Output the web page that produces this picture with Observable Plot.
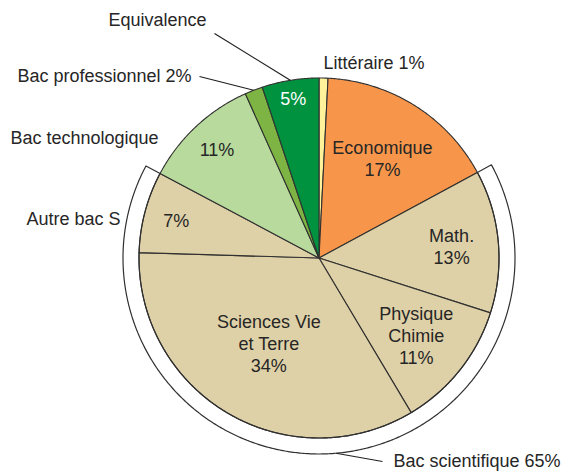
<!DOCTYPE html>
<html>
<head>
<meta charset="utf-8">
<script src="https://cdn.jsdelivr.net/npm/d3@7"></script>
<script src="https://cdn.jsdelivr.net/npm/@observablehq/plot@0.6"></script>
<style>
  html, body { margin: 0; padding: 0; background: #fff; }
  #chart svg { display: block; }
</style>
</head>
<body>
<div id="chart"></div>
<script>
// ---- data ----
const categories = ["Littéraire", "Economique", "Math.", "Physique Chimie", "Sciences Vie et Terre", "Autre bac S", "Bac technologique", "Bac professionnel", "Equivalence"];
const shares = [0.8, 16.3, 12.8, 11.5, 34.0, 7.3, 10.5, 1.6, 5.1];
const pctLabels = ["1%", "17%", "13%", "11%", "34%", "7%", "11%", "2%", "5%"];
const colors = ["#FFF29B", "#F7964B", "#DFD1A7", "#DFD1A7", "#DFD1A7", "#DFD1A7", "#B8DA9C", "#7DB443", "#00923F"];
const innerNames = [null, "Economique", "Math.", "Physique\nChimie", "Sciences Vie\net Terre", null, null, null, null];
const scientificGroup = ["Math.", "Physique Chimie", "Sciences Vie et Terre", "Autre bac S"];
const scientificLabel = "Bac scientifique 65%";

// ---- layout ----
const W = 563, H = 471;
const cx = 318.5, cy = 257.5;
const R = 180, R2 = 196;
const labelRadius = [0, 0.66, 0.74, 0.69, 0.55, 0.82, 0.83, 0, 0.9];
const font = "'Liberation Sans', Arial, Helvetica, sans-serif";
const ink = "#262626";
const fs = 18;

const pie = d3.pie().sort(null).value(d => d)(shares);
const pt = (a, r) => ({x: r * Math.sin(a), y: -r * Math.cos(a)});
const arcPts = (a0, a1, r) => {
  const n = Math.max(2, Math.ceil((a1 - a0) / (Math.PI / 360)));
  return d3.range(n + 1).map(i => pt(a0 + (a1 - a0) * i / n, r));
};

// slices as closed polygons
const slicePts = [];
pie.forEach((p, i) => {
  const pts = [{x: 0, y: 0}, ...arcPts(p.startAngle, p.endAngle, R)];
  pts.forEach(q => slicePts.push({...q, name: categories[i], color: colors[i]}));
});

// bracket for Bac scientifique
const sci = pie.filter((p, i) => scientificGroup.includes(categories[i]));
const b0 = d3.min(sci, p => p.startAngle), b1 = d3.max(sci, p => p.endAngle);
const bracketPts = [...arcPts(b0, b1, R2), ...arcPts(b0, b1, R).reverse()];

// inner labels
const inner = pie.map((p, i) => {
  if (!labelRadius[i]) return null;
  const m = (p.startAngle + p.endAngle) / 2;
  const q = pt(m, R * labelRadius[i]);
  const txt = innerNames[i] ? innerNames[i] + "\n" + pctLabels[i] : pctLabels[i];
  return {...q, text: txt, fill: categories[i] === "Equivalence" ? "#ffffff" : ink};
}).filter(d => d);

// outer labels & leaders (anchor positions in pixel space relative to centre)
const px = (x, y) => ({x: x - cx, y: y - cy});
const idx = n => categories.indexOf(n);
const midA = i => (pie[i].startAngle + pie[i].endAngle) / 2;
const outer = [
  {...px(157, 20), text: "Equivalence", anchor: "middle"},
  {...px(191, 76), text: "Bac professionnel " + pctLabels[idx("Bac professionnel")], anchor: "end"},
  {...px(323, 63), text: "Littéraire " + pctLabels[idx("Littéraire")], anchor: "start"},
  {...px(10, 138), text: "Bac technologique", anchor: "start"},
  {...px(120, 219), text: "Autre bac S", anchor: "end"},
  {...px(393, 461), text: scientificLabel, anchor: "start"}
];
const leaders = [
  {a: pt(midA(idx("Equivalence")), R), b: px(214, 33)},
  {a: pt(midA(idx("Bac professionnel")), R), b: px(199, 76)},
  {a: pt(175 * Math.PI / 180, R2), b: px(382, 461)}
];

const outerText = anchor => Plot.text(outer.filter(d => d.anchor === anchor), {
  x: "x", y: "y", text: "text", textAnchor: anchor, fill: ink, fontSize: fs
});

const chart = Plot.plot({
  width: W, height: H,
  margin: 0,
  x: {domain: [-cx, W - cx], range: [0, W], axis: null},
  y: {domain: [-cy, H - cy], range: [0, H], axis: null},
  color: {type: "identity"},
  style: {fontFamily: font, background: "#fff"},
  marks: [
    Plot.line(slicePts, {x: "x", y: "y", z: "name", fill: "color", stroke: "#303030", strokeWidth: 1.1, curve: "linear-closed", strokeLinejoin: "round"}),
    Plot.line(bracketPts, {x: "x", y: "y", fill: "none", stroke: "#303030", strokeWidth: 1.2, curve: "linear-closed"}),
    Plot.link(leaders, {x1: d => d.a.x, y1: d => d.a.y, x2: d => d.b.x, y2: d => d.b.y, stroke: "#202020", strokeWidth: 1.2}),
    Plot.text(inner, {x: "x", y: "y", text: "text", fill: "fill", fontSize: fs, lineHeight: 1.22, textAnchor: "middle"}),
    outerText("start"),
    outerText("middle"),
    outerText("end")
  ]
});
document.getElementById("chart").appendChild(chart);
</script>
</body>
</html>
